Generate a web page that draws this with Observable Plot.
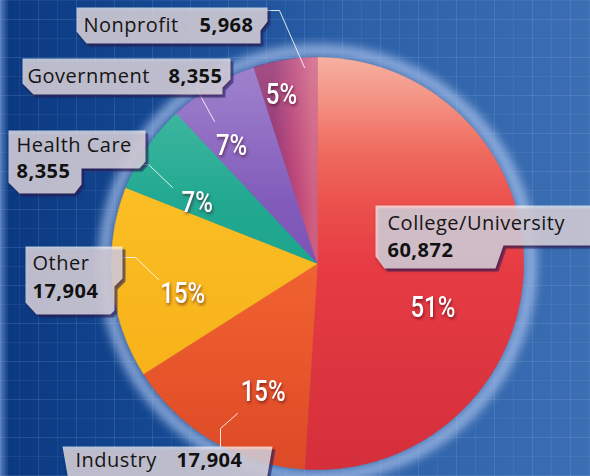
<!DOCTYPE html>
<html><head><meta charset="utf-8">
<script src="https://cdn.jsdelivr.net/npm/d3@7"></script>
<script src="https://cdn.jsdelivr.net/npm/@observablehq/plot@0.6"></script>
<style>
html,body{margin:0;padding:0;background:#0d3f86;}
#chart{position:relative;width:590px;height:476px;overflow:hidden;
 background:
  linear-gradient(90deg, rgba(140,175,230,0.6) 0px, rgba(140,175,230,0) 9px),
  repeating-linear-gradient(90deg, rgba(190,215,255,0.13) 0 1px, transparent 1px 19px, rgba(190,215,255,0.07) 19px 20px, transparent 20px 38px),
  repeating-linear-gradient(0deg, rgba(190,215,255,0.13) 0 1px, transparent 1px 19px, rgba(190,215,255,0.07) 19px 20px, transparent 20px 38px),
  linear-gradient(90deg, #0a3880 0%, #164a94 30%, #2c60a7 60%, #3b6eb3 100%);
}
#chart svg{position:absolute;left:0;top:0;}
</style>
</head><body>
<div id="chart"></div>
<script>
// ---- data ----
const sectors = ["College/University", "Industry", "Other", "Health Care", "Government", "Nonprofit"];
const counts = [60872, 17904, 17904, 8355, 8355, 5968];
const percents = [51, 15, 15, 7, 7, 5];

// ---- layout (pixels of the 590x476 frame) ----
const W = 590, H = 476, CX = 317, CY = 263, R = 206;
const ux = px => (px - CX) / R, uy = py => (CY - py) / R;

const sliceStops = [
  [[0, "#f49c88"], [0.22, "#ee5e50"], [0.5, "#e6373f"], [1, "#d42f3b"]],
  [[0, "#f2773a"], [0.6, "#ee5a2a"], [1, "#dc4a27"]],
  [[0, "#fcc323"], [1, "#f7ac13"]],
  [[0, "#22ad92"], [1, "#0f9985"]],
  [[0, "#8966c2"], [0.5, "#7950b4"], [1, "#6236a0"]],
  [[0, "#8c2468"], [0.55, "#b83b72"], [1, "#cd5a7c"]]
];
// percent label placement: angle (deg, clockwise from 12 o'clock), radius fraction
const pctPlace = [[111, 0.60], [203, 0.675], [257.5, 0.67], [297, 0.655], [324, 0.71], [348, 0.84]];

// callouts: box outline, name / number positions, leader line
const callouts = [
  {i: 0, box: [[375,205],[600,205],[600,245],[503,245],[495,268],[384,268],[375,256]],
   name: [387,223,"start"], num: [387,250,"start"], leader: null},
  {i: 1, box: [[62,446],[272,446],[266,480],[68,480]],
   name: [75,460,"start"], num: [242,460,"end"], leader: [[220,446],[220,428],[237,413]]},
  {i: 2, box: [[25,246],[122,246],[122,278],[114,286],[114,310],[110,314],[36,314],[25,302]],
   name: [32,263,"start"], num: [32,291,"start"], leader: [[122,257],[135,257],[158,279]]},
  {i: 3, box: [[8,130],[145,130],[145,161],[139,168],[81,168],[81,184],[74,193],[19,193],[8,182]],
   name: [16,145,"start"], num: [16,171,"start"], leader: [[140,164],[148,164],[172,187]]},
  {i: 4, box: [[22,58],[230,58],[230,79],[222,87],[222,94],[33,94],[22,83]],
   name: [27,76,"start"], num: [222,76,"end"], leader: [[196,88],[214,121]]},
  {i: 5, box: [[76,7],[267,7],[267,21],[260,30],[260,43],[86,43],[76,31]],
   name: [83,25,"start"], num: [253,25,"end"], leader: [[267,10],[279,10],[304,67]]}
];

// ---- geometry from data ----
const rows = sectors.map((s, i) => ({sector: s, count: counts[i], pct: percents[i]}));
const arcs = d3.pie().sort(null).value(d => d.count)(rows);
function slicePoints(a) {
  const pts = [{x: 0, y: 0}];
  const n = Math.max(2, Math.ceil((a.endAngle - a.startAngle) / (Math.PI / 360)));
  for (let k = 0; k <= n; k++) {
    const t = a.startAngle + (a.endAngle - a.startAngle) * k / n;
    pts.push({x: Math.sin(t), y: Math.cos(t)});
  }
  pts.push({x: 0, y: 0});
  return pts;
}
const rad = d => d * Math.PI / 180;

const defs = () => {
  const d = d3.create("svg:defs");
  sliceStops.forEach((stops, i) => {
    const g = d.append("linearGradient").attr("id", "slice" + i)
      .attr("gradientUnits", "userSpaceOnUse");
    if (i === 5) g.attr("x1", CX - 45).attr("x2", CX - 5).attr("y1", 0).attr("y2", 0);
    else g.attr("x1", 0).attr("x2", 0).attr("y1", CY - R).attr("y2", CY + R);
    stops.forEach(([o, c]) => g.append("stop").attr("offset", o).attr("stop-color", c));
  });
  const sh = d.append("linearGradient").attr("id", "shine")
    .attr("gradientUnits", "userSpaceOnUse")
    .attr("x1", 0).attr("x2", 0).attr("y1", CY - R).attr("y2", CY + R);
  sh.append("stop").attr("offset", 0).attr("stop-color", "white").attr("stop-opacity", 0.2);
  sh.append("stop").attr("offset", 0.35).attr("stop-color", "white").attr("stop-opacity", 0.03);
  sh.append("stop").attr("offset", 1).attr("stop-color", "white").attr("stop-opacity", 0);
  return d.node();
};

const toU = pts => pts.map(([px, py]) => ({x: ux(px), y: uy(py)}));
const boxPts = callouts.flatMap(c => toU(c.box).map(p => ({...p, k: c.i})));
const shadowPts = callouts.flatMap(c => toU(c.box.map(([a, b]) => [a + 3, b + 3])).map(p => ({...p, k: c.i})));
const leaderPts = callouts.filter(c => c.leader).flatMap(c => toU(c.leader).map(p => ({...p, k: c.i})));
const nameRows = callouts.map(c => ({x: ux(c.name[0]), y: uy(c.name[1]), a: c.name[2], t: sectors[c.i]}));
const numRows = callouts.map(c => ({x: ux(c.num[0]), y: uy(c.num[1]), a: c.num[2], t: d3.format(",")(counts[c.i])}));

const labelFont = "'Open Sans', 'Noto Sans', sans-serif";
const pctFont = "Roboto, 'Noto Sans', sans-serif";

const marks = [
  defs,
  Plot.dot([{x: 0, y: 0}], {x: "x", y: "y", r: R + 7, fill: "none", stroke: "#b0c8ef", strokeWidth: 13, strokeOpacity: 0.7}),
  ...arcs.map((a, i) => Plot.line(slicePoints(a), {x: "x", y: "y", fill: `url(#slice${i})`, stroke: `url(#slice${i})`, strokeWidth: 0.6, curve: "linear"})),
  Plot.dot([{x: 0, y: 0}], {x: "x", y: "y", r: R, fill: "url(#shine)", stroke: "none"}),
  Plot.line(leaderPts, {x: "x", y: "y", z: "k", stroke: "white", strokeWidth: 1, strokeOpacity: 0.85}),
  Plot.line(shadowPts, {x: "x", y: "y", z: "k", fill: "#1d2470", fillOpacity: 0.55, stroke: "none"}),
  Plot.line(boxPts, {x: "x", y: "y", z: "k", fill: "white", fillOpacity: 0.7, stroke: "none"}),
  Plot.text(nameRows.filter(d => d.a === "start"), {x: "x", y: "y", text: "t", textAnchor: "start", lineAnchor: "middle", fontSize: 20, fontFamily: labelFont, fill: "#151515"}),
  Plot.text(numRows.filter(d => d.a === "start"), {x: "x", y: "y", text: "t", textAnchor: "start", lineAnchor: "middle", fontSize: 20, fontWeight: "bold", fontFamily: labelFont, fill: "#111"}),
  Plot.text(numRows.filter(d => d.a === "end"), {x: "x", y: "y", text: "t", textAnchor: "end", lineAnchor: "middle", fontSize: 20, fontWeight: "bold", fontFamily: labelFont, fill: "#111"}),
  Plot.text(rows, {
    x: (d, i) => pctPlace[i][1] * Math.sin(rad(pctPlace[i][0])),
    y: (d, i) => pctPlace[i][1] * Math.cos(rad(pctPlace[i][0])),
    text: d => d.pct + "%", fill: "white", fontSize: 30, fontWeight: 500, fontFamily: pctFont, lineAnchor: "middle", textAnchor: "middle"
  })
];

const chart = Plot.plot({
  width: W, height: H, margin: 0,
  style: {background: "transparent", overflow: "visible"},
  x: {domain: [ux(0), ux(W)], axis: null},
  y: {domain: [uy(H), uy(0)], axis: null},
  marks
});
const sel = d3.select(chart);
sel.select('g[aria-label="dot"] circle').style("filter", "blur(5px)");
sel.selectAll('g[fill="#151515"] text, g[fill="#111"] text').style("letter-spacing", "0.5px");
sel.selectAll('g[fill="white"] text').each(function() {
  const t = d3.select(this);
  const tr = t.attr("transform") || "";
  t.attr("transform", tr + " scale(0.8,1)");
});
sel.selectAll('g[fill="white"]').style("filter", "drop-shadow(1px 2px 1.5px rgba(60,0,20,0.55))");
document.getElementById("chart").appendChild(chart);
</script>
</body></html>
